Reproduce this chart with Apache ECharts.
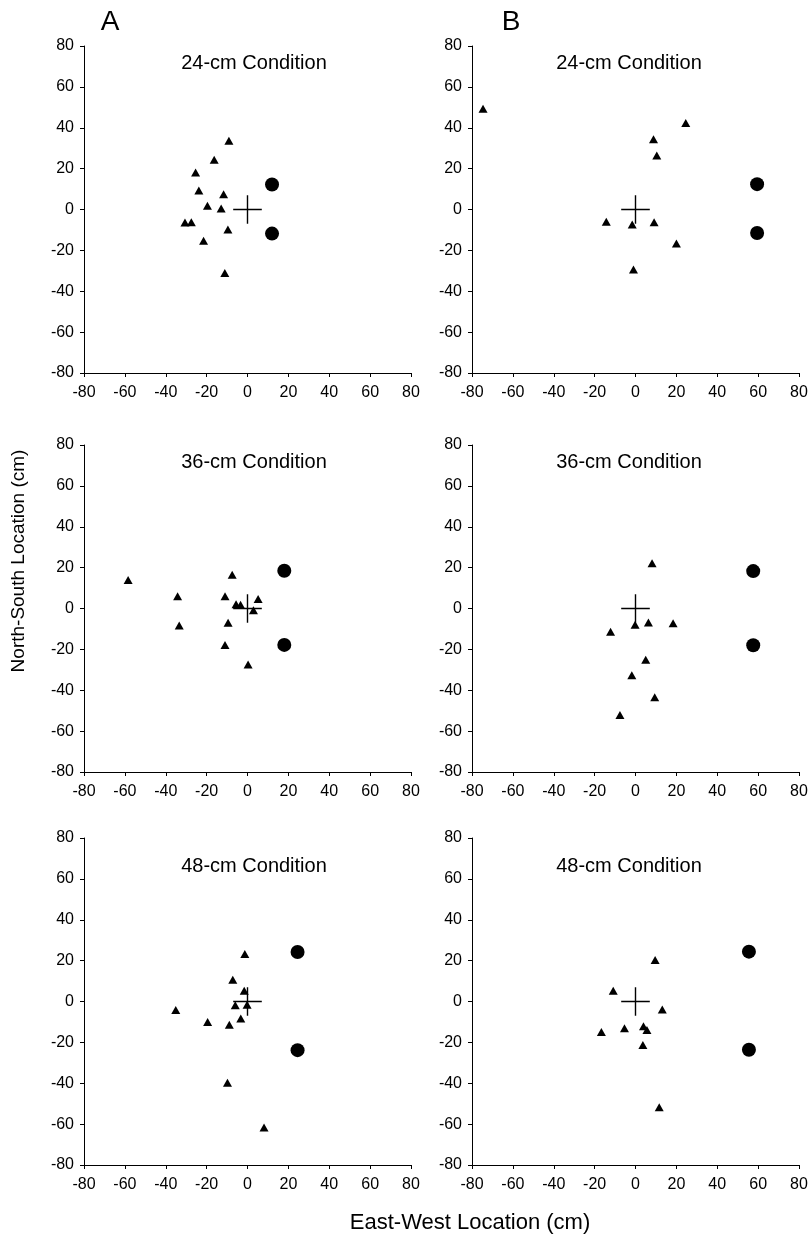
<!DOCTYPE html>
<html><head><meta charset="utf-8">
<script src="https://cdn.jsdelivr.net/npm/echarts@6/dist/echarts.min.js"></script>
<style>html,body{margin:0;padding:0;background:#fff}#c{width:811px;height:1239px}</style>
</head><body><div id="c"></div>
<script>
// ---------- DATA ----------
const conditions = ['24-cm Condition', '36-cm Condition', '48-cm Condition'];
const panelLetters = ['A', 'B'];
const xAxisTitle = 'East-West Location (cm)';
const yAxisTitle = 'North-South Location (cm)';
const axisMin = -80, axisMax = 80, axisStep = 20;
const crossHalf = 7;

// Column A: response locations [east-west, north-south]
const respA24 = [[-9.1,33.7],[-16.3,24.4],[-25.4,18.1],[-23.8,9.3],[-11.7,7.5],[-19.6,1.8],[-12.9,0.5],[-30.6,-6.4],[-27.5,-6.2],[-9.6,-9.8],[-21.5,-15.3],[-11.1,-31.1]];
const respA36 = [[-58.4,14.0],[-34.2,6.0],[-33.4,-8.3],[-7.5,16.5],[-11.0,6.0],[-5.6,2.1],[-3.4,1.8],[5.2,4.6],[2.9,-0.8],[-9.5,-7.0],[-11.0,-17.9],[0.3,-27.4]];
const respA48 = [[-1.3,23.2],[-7.2,10.6],[-1.6,5.2],[-6.0,-1.8],[-0.2,-1.6],[-35.1,-4.1],[-19.5,-10.0],[-3.3,-8.3],[-8.9,-11.4],[-9.8,-39.8],[8.1,-61.6]];
// Column B
const respB24 = [[-74.6,49.3],[8.8,34.4],[10.4,26.4],[24.6,42.3],[-14.3,-6.0],[-1.6,-7.3],[9.1,-6.2],[20.0,-16.6],[-1.0,-29.3]];
const respB36 = [[8.1,22.2],[-12.2,-11.4],[-0.2,-8.0],[6.3,-6.9],[18.4,-7.2],[5.0,-25.1],[-1.8,-32.7],[9.4,-43.4],[-7.6,-52.1]];
const respB48 = [[9.6,20.3],[-10.9,5.2],[13.1,-3.9],[-5.4,-13.1],[3.9,-12.1],[5.6,-13.9],[-16.7,-14.9],[3.6,-21.3],[11.6,-51.7]];

// Target (circle) locations
const targA24 = [[12,12.2],[12,-11.8]];
const targA36 = [[18,18.5],[18,-17.8]];
const targA48 = [[24.5,24.2],[24.5,-23.8]];
const targB24 = [[59.5,12.4],[59.5,-11.5]];
const targB36 = [[57.6,18.3],[57.6,-18.0]];
const targB48 = [[55.5,24.4],[55.5,-23.6]];

const responses = [[respA24, respB24], [respA36, respB36], [respA48, respB48]];
const targets = [[targA24, targB24], [targA36, targB36], [targA48, targB48]];

// ---------- LAYOUT ----------
const colLeft = [84, 472];
const rowTop = [46, 445, 838];
const panelSize = 327;
const titleX = [254, 629];
const titleY = [63, 462, 866];
const FONT = '"Liberation Sans", Arial, Helvetica, sans-serif';

const grids = [], xAxes = [], yAxes = [], series = [], titles = [];
let idx = 0;
for (let r = 0; r < 3; r++) {
  for (let c = 0; c < 2; c++) {
    grids.push({ left: colLeft[c], top: rowTop[r], width: panelSize, height: panelSize, containLabel: false });
    const axisCommon = {
      type: 'value', min: axisMin, max: axisMax, interval: axisStep,
      gridIndex: idx,
      axisLine: { show: true, onZero: false, lineStyle: { color: '#000', width: 1 } },
      axisTick: { show: true, inside: false, length: 4, lineStyle: { color: '#000', width: 1 } },
      splitLine: { show: false },
      axisLabel: { color: '#000', fontSize: 16, fontFamily: FONT }
    };
    xAxes.push(Object.assign({}, axisCommon, { position: 'bottom', axisLabel: Object.assign({}, axisCommon.axisLabel, { margin: 12 }) }));
    yAxes.push(Object.assign({}, axisCommon, { position: 'left', axisLabel: Object.assign({}, axisCommon.axisLabel, { margin: 10 }) }));

    series.push({
      type: 'line', xAxisIndex: idx, yAxisIndex: idx, symbol: 'none', silent: true,
      lineStyle: { color: '#000', width: 1.4, opacity: 1 },
      data: [[-crossHalf, 0], [crossHalf, 0]]
    });
    series.push({
      type: 'line', xAxisIndex: idx, yAxisIndex: idx, symbol: 'none', silent: true,
      lineStyle: { color: '#000', width: 1.4, opacity: 1 },
      data: [[0, -crossHalf], [0, crossHalf]]
    });
    series.push({
      type: 'scatter', xAxisIndex: idx, yAxisIndex: idx,
      symbol: 'triangle', symbolSize: [9, 8],
      itemStyle: { color: '#000', opacity: 1 },
      data: responses[r][c]
    });
    series.push({
      type: 'scatter', xAxisIndex: idx, yAxisIndex: idx,
      symbol: 'circle', symbolSize: 14,
      itemStyle: { color: '#000', opacity: 1 },
      data: targets[r][c]
    });
    titles.push({
      text: conditions[r], left: titleX[c], top: titleY[r],
      textAlign: 'center', textVerticalAlign: 'middle', padding: 0,
      textStyle: { color: '#000', fontSize: 20, fontWeight: 'normal', fontFamily: FONT }
    });
    idx++;
  }
}

const chart = echarts.init(document.getElementById('c'), null, { renderer: 'canvas' });
chart.setOption({
  animation: false,
  backgroundColor: '#fff',
  title: titles,
  grid: grids,
  xAxis: xAxes,
  yAxis: yAxes,
  series: series,
  graphic: [
    { type: 'text', x: 110, y: 22, style: { text: panelLetters[0], fill: '#000', font: '28px ' + FONT, align: 'center', verticalAlign: 'middle', textAlign: 'center', textVerticalAlign: 'middle' } },
    { type: 'text', x: 511, y: 22, style: { text: panelLetters[1], fill: '#000', font: '28px ' + FONT, align: 'center', verticalAlign: 'middle', textAlign: 'center', textVerticalAlign: 'middle' } },
    { type: 'text', x: 19, y: 561, rotation: Math.PI / 2, style: { text: yAxisTitle, fill: '#000', font: '19px ' + FONT, align: 'center', verticalAlign: 'middle', textAlign: 'center', textVerticalAlign: 'middle' } },
    { type: 'text', x: 470, y: 1223, style: { text: xAxisTitle, fill: '#000', font: '22px ' + FONT, align: 'center', verticalAlign: 'middle', textAlign: 'center', textVerticalAlign: 'middle' } }
  ]
});
</script>
</body></html>
